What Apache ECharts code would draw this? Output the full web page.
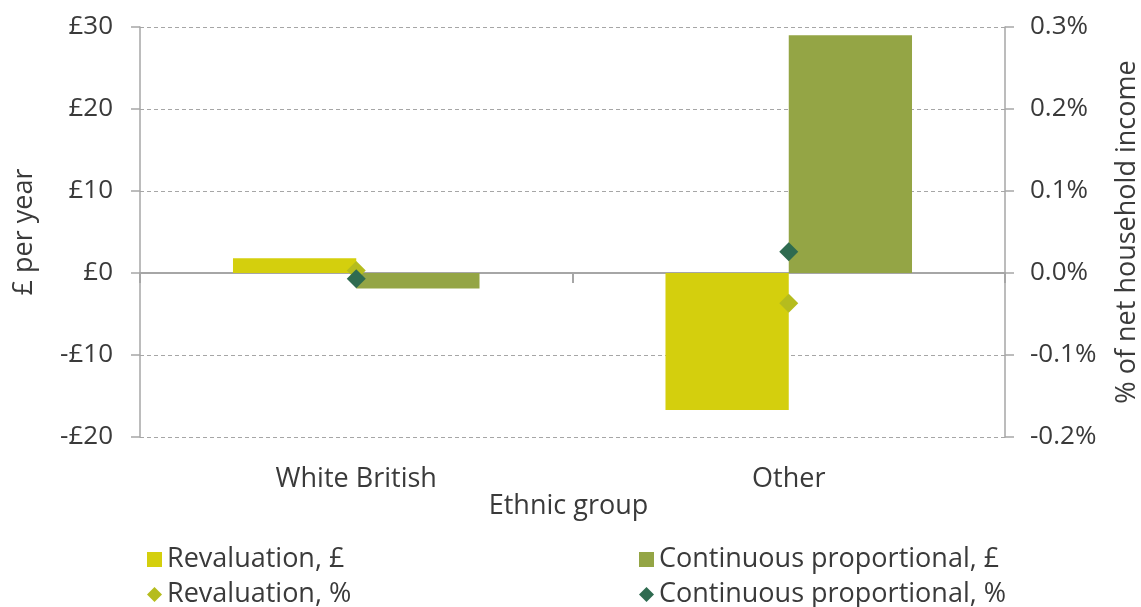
<!DOCTYPE html>
<html>
<head>
<meta charset="utf-8">
<script src="https://cdn.jsdelivr.net/npm/echarts@6/dist/echarts.min.js"></script>
<style>html,body{margin:0;padding:0;background:#fff;}#c{width:1141px;height:607px;}</style>
</head>
<body>
<div id="c"></div>
<script>
const categories = ['White British', 'Other'];
const revaluationGBP = [1.8, -16.7];
const continuousGBP = [-1.9, 29.0];
const revaluationPct = [0.003, -0.037];
const continuousPct = [-0.007, 0.026];
const leftTicks = { min: -20, max: 30, interval: 10 };
const rightTicks = { min: -0.2, max: 0.3, interval: 0.1 };

const FONT = '"Open Sans", "Noto Sans", sans-serif';
const TXT = '#3a3a3a';
const C_REV_BAR = '#D4CF0D';
const C_CON_BAR = '#94A545';
const C_REV_DIA = '#B5BC1E';
const C_CON_DIA = '#2F6B50';
const FS = 27;
const FS_TICK = 26;

const chart = echarts.init(document.getElementById('c'), null, { renderer: 'canvas' });
const legendBase = { orient: 'horizontal', itemWidth: 15, itemHeight: 15, itemGap: 4,
  textStyle: { fontFamily: FONT, fontSize: FS, color: TXT }, selectedMode: false };
chart.setOption({
  animation: false,
  backgroundColor: '#fff',
  textStyle: { fontFamily: FONT },
  grid: { left: 140, right: 136, top: 27, bottom: 170, containLabel: false, outerBoundsMode: 'none' },
  legend: [
    Object.assign({}, legendBase, { left: 142, top: 541, data: [{ name: 'Revaluation, £', icon: 'rect' }] }),
    Object.assign({}, legendBase, { left: 634, top: 541, data: [{ name: 'Continuous proportional, £', icon: 'rect' }] }),
    Object.assign({}, legendBase, { left: 142, top: 576, data: [{ name: 'Revaluation, %', icon: 'diamond' }] }),
    Object.assign({}, legendBase, { left: 634, top: 576, data: [{ name: 'Continuous proportional, %', icon: 'diamond' }] })
  ],
  xAxis: [
    {
      type: 'category', data: categories, position: 'bottom',
      axisLine: { show: false, onZero: false }, axisTick: { show: false },
      axisLabel: { fontFamily: FONT, fontSize: FS, color: TXT, margin: 29 },
      name: 'Ethnic group', nameLocation: 'middle', nameGap: 56, nameMoveOverlap: false,
      nameTextStyle: { fontFamily: FONT, fontSize: FS, color: TXT, padding: [0, 8, 0, 0] },
      splitLine: { show: false }
    },
    {
      type: 'category', data: categories, position: 'top',
      axisLine: { show: true, onZero: true, onZeroAxisIndex: 0, lineStyle: { color: '#a6a6a6', width: 2 } },
      axisTick: { show: true, inside: true, length: 10, lineStyle: { color: '#a6a6a6', width: 2 } },
      axisLabel: { show: false }, splitLine: { show: false }
    }
  ],
  yAxis: [
    {
      type: 'value', min: leftTicks.min, max: leftTicks.max, interval: leftTicks.interval,
      position: 'left',
      axisLine: { show: true, lineStyle: { color: '#a6a6a6', width: 1.5 } },
      axisTick: { show: true, length: 9, lineStyle: { color: '#a6a6a6', width: 1.5 } },
      axisLabel: { fontFamily: FONT, fontSize: FS_TICK, color: TXT, margin: 27,
        formatter: v => (v < 0 ? '-£' + Math.abs(v) : '£' + v) },
      splitLine: { show: true, lineStyle: { color: '#a6a6a6', type: [4, 3], width: 1 } },
      name: '£ per year', nameLocation: 'middle', nameGap: 102, nameRotate: 90,
      nameTextStyle: { fontFamily: FONT, fontSize: FS, color: TXT }
    },
    {
      type: 'value', min: rightTicks.min, max: rightTicks.max, interval: rightTicks.interval,
      position: 'right',
      axisLine: { show: true, lineStyle: { color: '#a6a6a6', width: 1.5 } },
      axisTick: { show: true, length: 9, lineStyle: { color: '#a6a6a6', width: 1.5 } },
      axisLabel: { fontFamily: FONT, fontSize: FS_TICK, color: TXT, margin: 25,
        formatter: v => v.toFixed(1) + '%' },
      splitLine: { show: false },
      name: '% of net household income', nameLocation: 'middle', nameGap: 109, nameRotate: 90,
      nameTextStyle: { fontFamily: FONT, fontSize: FS, color: TXT }
    }
  ],
  series: [
    { name: 'Revaluation, £', type: 'bar', xAxisIndex: 0, yAxisIndex: 0, data: revaluationGBP,
      itemStyle: { color: C_REV_BAR }, barGap: '0%', barCategoryGap: '43%' },
    { name: 'Continuous proportional, £', type: 'bar', xAxisIndex: 0, yAxisIndex: 0, data: continuousGBP,
      itemStyle: { color: C_CON_BAR }, barGap: '0%', barCategoryGap: '43%' },
    { name: 'Revaluation, %', type: 'line', xAxisIndex: 0, yAxisIndex: 1, data: revaluationPct,
      symbol: 'diamond', symbolSize: 19, lineStyle: { opacity: 0, width: 0 },
      itemStyle: { color: C_REV_DIA }, z: 5 },
    { name: 'Continuous proportional, %', type: 'line', xAxisIndex: 0, yAxisIndex: 1, data: continuousPct,
      symbol: 'diamond', symbolSize: 19, lineStyle: { opacity: 0, width: 0 },
      itemStyle: { color: C_CON_DIA }, z: 6 }
  ]
});
</script>
</body>
</html>
